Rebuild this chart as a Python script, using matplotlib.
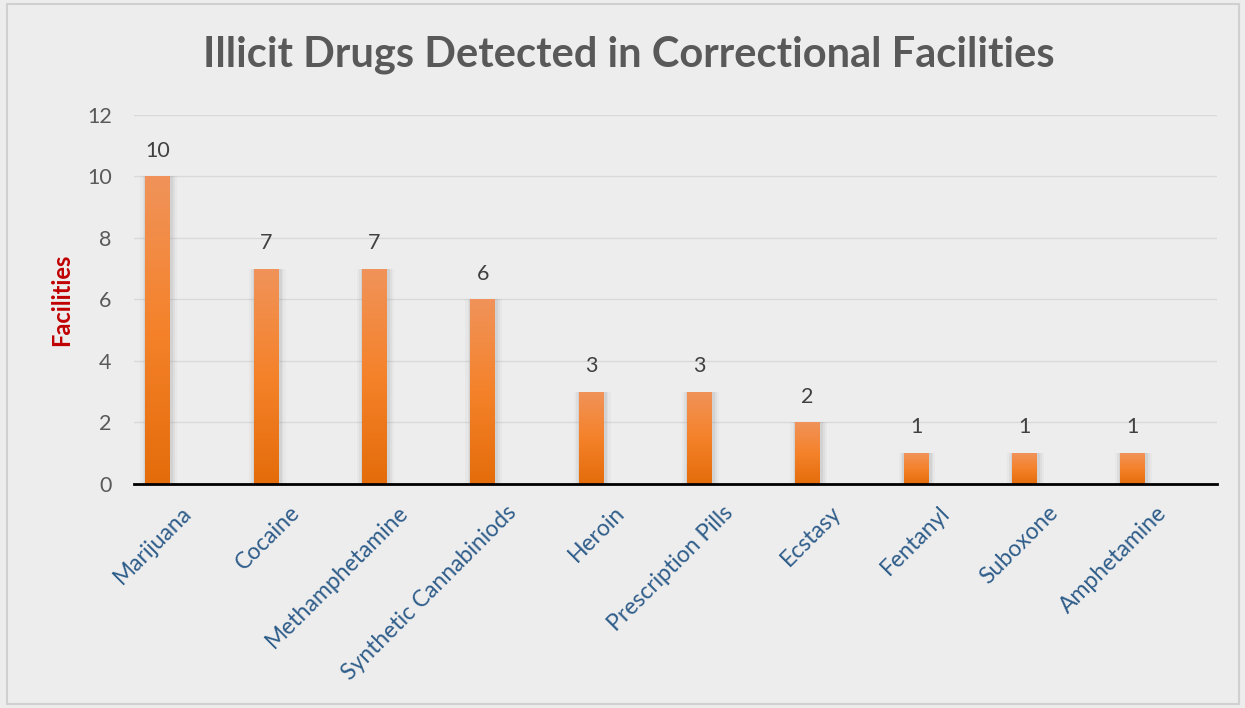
import numpy as np
import matplotlib
matplotlib.use("Agg")
import matplotlib.pyplot as plt
from matplotlib.patches import Rectangle
from matplotlib.colors import LinearSegmentedColormap
from matplotlib.transforms import ScaledTranslation

# ---- Data ----
drugs = ["Marijuana", "Cocaine", "Methamphetamine", "Synthetic Cannabiniods",
         "Heroin", "Prescription Pills", "Ecstasy", "Fentanyl", "Suboxone",
         "Amphetamine"]
facilities = [10, 7, 7, 6, 3, 3, 2, 1, 1, 1]
y_ticks = [0, 2, 4, 6, 8, 10, 12]

plt.rcParams["font.family"] = ["Lato", "DejaVu Sans"]

bg = "#EDEDED"
fig = plt.figure(figsize=(12.45, 7.08), dpi=100, facecolor=bg)
ax = fig.add_axes([0.1076, 0.3164, 0.8700, 0.5212])
ax.set_facecolor(bg)

# outer chart border
fig.patches.append(Rectangle((0.006, 0.006), 0.989, 0.988, transform=fig.transFigure,
                             fill=False, edgecolor="#D0D0D0", linewidth=1.5))

x = np.arange(len(drugs))
width = 0.23

# soft shadow behind bars
for k, a in [(0.11, 0.05), (0.07, 0.08), (0.04, 0.12)]:
    ax.bar(x + 0.01, facilities, width=width + k, color="#7F7F7F", alpha=a,
           zorder=2, linewidth=0)

bars = ax.bar(x, facilities, width=width, color="#F38630", zorder=3, linewidth=0)

# vertical gradient fill for each bar
cmap = LinearSegmentedColormap.from_list("og", ["#E46C0A", "#F5822A", "#F0935A"])
grad = np.linspace(0, 1, 256).reshape(-1, 1)
for b in bars:
    x0, y0 = b.get_x(), b.get_y()
    w, h = b.get_width(), b.get_height()
    im = ax.imshow(grad, cmap=cmap, aspect="auto", origin="lower",
                   extent=[x0, x0 + w, y0, y0 + h], zorder=4)
    im.set_clip_path(b)

# value labels
for xi, v in zip(x, facilities):
    ax.annotate(str(v), (xi, v), xytext=(0, 11.5), textcoords="offset points",
                ha="center", va="bottom", fontsize=15.5, color="#404040", zorder=5)

ax.set_xlim(-0.22, 9.78)
ax.set_ylim(0, 12)
ax.set_yticks(y_ticks)
ax.yaxis.grid(True, color="#D9D9D9", linewidth=1)
ax.set_axisbelow(True)
ax.tick_params(axis="y", length=0, pad=16, labelsize=15.5, labelcolor="#595959")
ax.tick_params(axis="x", length=0, pad=0)

for s in ["top", "right", "left"]:
    ax.spines[s].set_visible(False)
ax.spines["bottom"].set_color("black")
ax.spines["bottom"].set_linewidth(2)
ax.spines["bottom"].set_zorder(6)

ax.set_xticks(x)
ax.set_xticklabels(drugs, rotation=45, ha="right", va="baseline",
                   rotation_mode="anchor", fontsize=16.5, color="#2F5D8A")
offset = ScaledTranslation(35 / 100, -30 / 100, fig.dpi_scale_trans)
for lbl in ax.get_xticklabels():
    lbl.set_transform(lbl.get_transform() + offset)

ax.set_ylabel("Facilities", fontsize=17, fontweight="bold", color="#C00000",
              labelpad=10)

fig.text(0.505, 0.922, "Illicit Drugs Detected in Correctional Facilities",
         ha="center", va="center", fontsize=30, fontweight="bold", color="#595959")

fig.savefig("out.png", dpi=100, facecolor=bg)
